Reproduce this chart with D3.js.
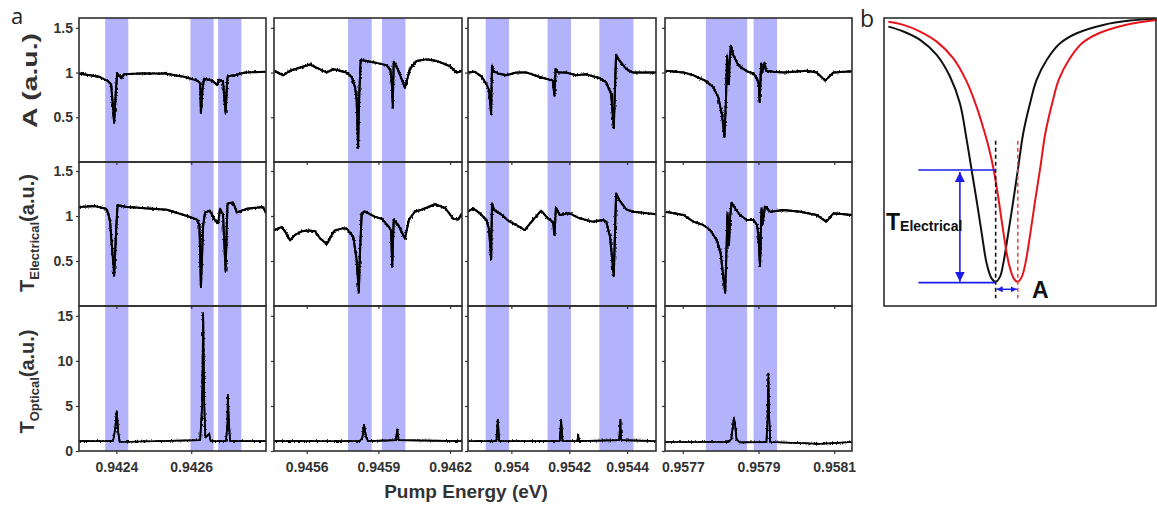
<!DOCTYPE html>
<html lang="en">
<head>
<meta charset="utf-8">
<script src="https://d3js.org/d3.v7.min.js"></script>
<title>Pump energy traces</title>
<style>
  body { margin: 0; background: #fff; }
  text { font-family: "Liberation Sans", Arial, sans-serif; }
  .frame { fill: none; stroke: #2e2e2e; stroke-width: 1.6px; }
  .trace { fill: none; stroke: #000; stroke-linejoin: round; }
  .axis path.domain { display: none; }
  .axis line { stroke: #333; stroke-width: 1.2px; }
  .axis text { font-family: "Liberation Sans", Arial, sans-serif; font-size: 14px; font-weight: bold; fill: #333; }
</style>
</head>
<body>
<svg id="fig" width="1157" height="506"></svg>
<script>
// ---- panel a : x axes (eV) ----
const xDomains = [[0.9423, 0.9428], [0.945463, 0.94625], [0.95385, 0.9545], [0.957653, 0.958147]];
const xTicks = [[0.9424, 0.9426], [0.9456, 0.9459, 0.9462], [0.954, 0.9542, 0.9544], [0.9577, 0.9579, 0.9581]];
const xTickLabels = [["0.9424", "0.9426"], ["0.9456", "0.9459", "0.9462"], ["0.954", "0.9542", "0.9544"], ["0.9577", "0.9579", "0.9581"]];

// ---- panel a : y axes ----
const yDomains = [[0, 1.61], [0, 1.6], [0, 16.1]];
const yTicks = [[0.5, 1, 1.5], [0.5, 1, 1.5], [0, 5, 10, 15]];

// shaded resonance windows [from, to] in eV
const bands1 = [[0.94237, 0.942432], [0.942598, 0.94266], [0.942672, 0.942734]];
const bands2 = [[0.945773, 0.945872], [0.945915, 0.946013]];
const bands3 = [[0.953911, 0.953992], [0.954125, 0.954206], [0.954304, 0.954422]];
const bands4 = [[0.957761, 0.95787], [0.957887, 0.957949]];

// A (a.u.)
const aTrace1 = [[0.9423,0.99],[0.942329,0.97],[0.942356,0.95],[0.942375,0.91],[0.942386,0.87],[0.942394,0.44],[0.942398,0.75],[0.942402,0.99],[0.942414,0.94],[0.94242,0.98],[0.942463,0.99],[0.94253,0.99],[0.942583,0.95],[0.942616,0.91],[0.942624,0.88],[0.942626,0.55],[0.94263,0.8],[0.942634,0.93],[0.942656,0.91],[0.942669,0.86],[0.942674,0.92],[0.942685,0.9],[0.942692,0.55],[0.942696,0.9],[0.942698,0.96],[0.942717,0.97],[0.942744,1.0],[0.9428,1.01]];
const aTrace2 = [[0.945463,1.02],[0.945502,0.97],[0.94553,1.02],[0.945614,1.09],[0.945684,1.0],[0.945711,1.04],[0.945767,1.0],[0.945788,0.95],[0.945802,0.84],[0.945809,0.7],[0.945815,0.16],[0.94582,0.76],[0.945826,1.14],[0.945851,1.13],[0.945907,1.1],[0.945935,1.08],[0.945951,1.02],[0.945957,0.85],[0.94596,0.61],[0.945964,1.12],[0.945977,1.06],[0.945997,0.93],[0.946011,0.83],[0.946032,1.04],[0.94606,1.13],[0.946102,1.15],[0.946144,1.13],[0.9462,1.07],[0.946227,1.0],[0.946241,1.01],[0.94625,1.02]];
const aTrace3 = [[0.95385,1.0],[0.953873,1.01],[0.953897,0.955],[0.953914,0.87],[0.953923,0.8],[0.95393,0.54],[0.953933,1.08],[0.953937,1.02],[0.953954,0.99],[0.953983,0.97],[0.954017,1.0],[0.954052,1.0],[0.954098,0.95],[0.954143,0.91],[0.954149,0.74],[0.954153,1.04],[0.954161,1.0],[0.95419,1.0],[0.954224,0.97],[0.954259,0.98],[0.954304,0.94],[0.954328,0.89],[0.954345,0.76],[0.954354,0.38],[0.954359,0.9],[0.954362,1.2],[0.954373,1.135],[0.954397,1.04],[0.954419,1.0],[0.9545,1.0]];
const aTrace4 = [[0.957655,1.02],[0.957702,1.0],[0.957728,0.97],[0.957759,0.91],[0.957781,0.835],[0.957794,0.72],[0.957803,0.54],[0.95781,0.28],[0.957814,0.69],[0.957817,1.19],[0.95782,1.0],[0.957822,0.87],[0.957823,1.06],[0.957827,1.3],[0.957834,1.19],[0.957847,1.08],[0.957869,1.015],[0.957887,0.99],[0.957896,0.93],[0.957901,0.87],[0.957903,0.67],[0.957907,1.1],[0.95791,1.0],[0.957916,1.11],[0.95792,1.02],[0.957939,1.01],[0.957966,1.0],[0.958028,1.02],[0.958054,1.0],[0.958076,0.91],[0.958098,1.0],[0.958147,1.015]];

// T Electrical (a.u.)
const teTrace1 = [[0.9423,1.1],[0.942343,1.11],[0.942372,1.08],[0.942378,1.03],[0.942383,0.94],[0.942394,0.34],[0.9424,0.9],[0.942403,1.12],[0.942428,1.1],[0.942535,1.07],[0.942589,1.0],[0.942616,0.96],[0.942622,0.9],[0.942626,0.21],[0.942632,0.9],[0.942637,1.04],[0.94265,1.06],[0.942664,0.95],[0.942672,0.92],[0.942677,1.08],[0.942685,1.02],[0.942692,0.39],[0.942697,1.14],[0.942712,1.15],[0.942722,1.04],[0.942749,1.08],[0.942792,1.1],[0.9428,1.03]];
const teTrace2 = [[0.945464,0.84],[0.945481,0.86],[0.945495,0.88],[0.945509,0.83],[0.94553,0.73],[0.945551,0.79],[0.945579,0.83],[0.945607,0.84],[0.945635,0.83],[0.945656,0.75],[0.945684,0.69],[0.945705,0.79],[0.945718,0.84],[0.945746,0.86],[0.945767,0.86],[0.945795,0.77],[0.945809,0.51],[0.945818,0.15],[0.945823,0.6],[0.94583,1.03],[0.945844,1.05],[0.945886,0.99],[0.945914,0.97],[0.945944,0.88],[0.945953,0.84],[0.945958,0.44],[0.945964,0.96],[0.945983,0.9],[0.946011,0.75],[0.946028,0.96],[0.946053,1.05],[0.946081,1.07],[0.946137,1.13],[0.946179,1.09],[0.946213,0.97],[0.946234,0.96],[0.94625,1.03]];
const teTrace3 = [[0.95385,1.05],[0.953868,1.085],[0.953891,1.03],[0.953914,0.956],[0.953923,0.844],[0.95393,0.52],[0.953933,1.14],[0.95394,1.067],[0.95396,1.03],[0.953994,0.937],[0.954017,0.9],[0.954046,0.844],[0.954075,0.956],[0.954103,1.059],[0.954126,0.974],[0.954143,0.937],[0.954149,0.789],[0.954154,1.093],[0.954167,1.011],[0.954201,1.03],[0.954236,0.974],[0.954281,0.937],[0.954316,0.956],[0.954328,0.937],[0.954341,0.77],[0.954354,0.333],[0.954359,0.9],[0.954362,1.252],[0.954373,1.178],[0.954397,1.074],[0.954419,1.048],[0.954454,1.037],[0.9545,1.019]];
const teTrace4 = [[0.957655,1.048],[0.957702,1.011],[0.957728,0.937],[0.957754,0.9],[0.957772,0.844],[0.95779,0.733],[0.9578,0.585],[0.957805,0.4],[0.957812,0.148],[0.957816,0.696],[0.957818,1.03],[0.957821,0.881],[0.957822,0.678],[0.957825,0.993],[0.957829,1.148],[0.957838,1.085],[0.957851,1.011],[0.957869,0.956],[0.957887,0.956],[0.957896,0.9],[0.9579,0.77],[0.957904,0.444],[0.957908,1.085],[0.957911,0.919],[0.957917,1.104],[0.957931,1.048],[0.957966,1.067],[0.95801,1.048],[0.958054,1.011],[0.958079,0.937],[0.958098,1.03],[0.958147,1.011]];

// T Optical (a.u.)
const toTrace1 = [[0.9423,1.1],[0.942391,1.1],[0.942397,2.5],[0.942401,4.4],[0.942405,2.0],[0.942409,1.0],[0.942624,1.2],[0.942629,5],[0.942632,15.3],[0.942635,5],[0.942638,1.5],[0.942648,1.9],[0.942652,1.1],[0.942693,1.1],[0.942697,3],[0.942698,6.2],[0.942701,3],[0.942704,1.1],[0.9428,1.1]];
const toTrace2 = [[0.945463,1.1],[0.945823,1.1],[0.945833,1.5],[0.94584,2.9],[0.945848,1.6],[0.945856,1.1],[0.945973,1.2],[0.945979,2.4],[0.945985,1.2],[0.94625,1.1]];
const toTrace3 = [[0.95385,1.1],[0.953948,1.1],[0.953951,2.5],[0.953953,3.5],[0.953955,2.5],[0.953958,1.1],[0.954167,1.1],[0.95417,2.5],[0.954172,3.5],[0.954174,2.5],[0.954177,1.1],[0.954228,1.1],[0.954231,1.8],[0.954234,1.1],[0.954373,1.2],[0.954377,3.5],[0.95438,1.2],[0.9545,1.1]];
const toTrace4 = [[0.957653,1.0],[0.95782,1.0],[0.957828,1.3],[0.957833,3.0],[0.957835,3.65],[0.957838,3.0],[0.957842,1.3],[0.957851,0.95],[0.957921,1.0],[0.957924,4],[0.957926,8.6],[0.957928,4],[0.957931,1.0],[0.958063,0.8],[0.958147,1.0]];

// ---- panel b : schematic (normalised frame units) ----
const blackCurve = [[0.016,0.97],[0.071,0.953],[0.132,0.924],[0.193,0.872],[0.242,0.796],[0.278,0.704],[0.303,0.576],[0.321,0.472],[0.339,0.368],[0.358,0.252],[0.376,0.148],[0.394,0.096],[0.409,0.084],[0.425,0.102],[0.437,0.148],[0.455,0.252],[0.474,0.368],[0.492,0.484],[0.51,0.6],[0.535,0.704],[0.559,0.785],[0.596,0.854],[0.645,0.912],[0.706,0.947],[0.803,0.976],[0.901,0.991],[0.999,0.997]];
const redCurve = [[0.016,0.987],[0.071,0.976],[0.132,0.953],[0.193,0.918],[0.254,0.86],[0.303,0.779],[0.339,0.692],[0.364,0.617],[0.383,0.553],[0.402,0.472],[0.42,0.368],[0.438,0.252],[0.457,0.148],[0.475,0.096],[0.49,0.084],[0.505,0.102],[0.518,0.148],[0.536,0.252],[0.554,0.368],[0.573,0.484],[0.591,0.6],[0.616,0.704],[0.64,0.785],[0.677,0.854],[0.725,0.912],[0.787,0.947],[0.884,0.976],[0.999,0.993]];
const dipBlack = 0.409, dipRed = 0.49, levelTop = 0.472, levelBottom = 0.081;
const dashTop = 0.574, dashBottom = 0.027, guideStart = 0.126, arrowX = 0.278, arrowY = 0.058;

const traces = [[aTrace1, aTrace2, aTrace3, aTrace4],
                [teTrace1, teTrace2, teTrace3, teTrace4],
                [toTrace1, toTrace2, toTrace3, toTrace4]];
const bands = [bands1, bands2, bands3, bands4];

// layout
const colX = [[79, 266], [274, 462], [468, 656], [665, 852]];
const rowY = [[18, 162], [162, 306], [306, 451]];
const bandColor = "#b3b3fc";
const blue = "#1c1ce8";

const svg = d3.select("#fig");
svg.append("rect").attr("width", 1157).attr("height", 506).attr("fill", "#fff");

let defs = svg.append("defs");
// small roughness on the measured traces
let filt = defs.append("filter").attr("id", "jitter")
  .attr("filterUnits", "userSpaceOnUse").attr("x", 0).attr("y", 0).attr("width", 1157).attr("height", 506);
filt.append("feTurbulence").attr("type", "fractalNoise").attr("baseFrequency", "0.8 0.5")
  .attr("numOctaves", 1).attr("seed", 4).attr("result", "n");
filt.append("feDisplacementMap").attr("in", "SourceGraphic").attr("in2", "n")
  .attr("scale", 4).attr("xChannelSelector", "R").attr("yChannelSelector", "G");

["arrowBig", "arrowSmall"].forEach(function (id, i) {
  let s = i == 0 ? 10 : 6;
  defs.append("marker").attr("id", id)
    .attr("viewBox", "0 0 10 10").attr("refX", 10).attr("refY", 5)
    .attr("markerWidth", s).attr("markerHeight", s)
    .attr("markerUnits", "userSpaceOnUse").attr("orient", "auto-start-reverse")
    .append("path").attr("d", "M0,0 L10,5 L0,10 z").attr("fill", blue);
});

// shaded bands (through all three rows)
bands.forEach(function (bs, c) {
  let x = d3.scaleLinear().domain(xDomains[c]).range(colX[c]);
  svg.append("g").selectAll("rect").data(bs).join("rect")
    .attr("x", d => x(d[0]))
    .attr("width", d => x(d[1]) - x(d[0]))
    .attr("y", rowY[0][0])
    .attr("height", rowY[2][1] - rowY[0][0])
    .attr("fill", bandColor);
});

// traces + axes
for (let r = 0; r < 3; r++) {
  for (let c = 0; c < 4; c++) {
    let x = d3.scaleLinear().domain(xDomains[c]).range(colX[c]);
    let y = d3.scaleLinear().domain(yDomains[r]).range([rowY[r][1], rowY[r][0]]);
    let id = "clip" + r + c;
    defs.append("clipPath").attr("id", id).append("rect")
      .attr("x", colX[c][0]).attr("y", rowY[r][0])
      .attr("width", colX[c][1] - colX[c][0]).attr("height", rowY[r][1] - rowY[r][0]);

    let line = d3.line().x(d => x(d[0])).y(d => y(d[1]));
    let g = svg.append("g").attr("clip-path", "url(#" + id + ")");
    // solid trace, then a roughened copy on top
    g.append("path").datum(traces[r][c])
      .attr("class", "trace")
      .attr("stroke-width", r == 2 ? 1.7 : 2)
      .attr("d", line);
    g.append("path").datum(traces[r][c])
      .attr("class", "trace")
      .attr("filter", "url(#jitter)")
      .attr("stroke-width", r == 2 ? 1.7 : 2)
      .attr("d", line);

    svg.append("g").attr("class", "axis")
      .attr("transform", "translate(" + colX[c][0] + ",0)")
      .call(d3.axisLeft(y).tickValues(yTicks[r]).tickSize(3).tickPadding(3)
        .tickFormat(c == 0 ? d3.format("") : ""));

    svg.append("g").attr("class", "axis")
      .attr("transform", "translate(0," + rowY[r][1] + ")")
      .call(d3.axisBottom(x).tickValues(xTicks[c]).tickSize(3).tickPadding(8)
        .tickFormat((d, i) => r == 2 ? xTickLabels[c][i] : ""));

    svg.append("rect").attr("class", "frame")
      .attr("x", colX[c][0]).attr("y", rowY[r][0])
      .attr("width", colX[c][1] - colX[c][0]).attr("height", rowY[r][1] - rowY[r][0]);
  }
}

// y labels
svg.append("text")
  .attr("transform", "translate(37,80.5) rotate(-90)")
  .attr("text-anchor", "middle")
  .attr("textLength", 95).attr("lengthAdjust", "spacingAndGlyphs")
  .style("font-size", "20px").style("font-weight", "bold").style("fill", "#333")
  .text("A (a.u.)");

[["Electrical", 233], ["Optical", 381.5]].forEach(function (lab) {
  let t = svg.append("text")
    .attr("transform", "translate(34," + lab[1] + ") rotate(-90)")
    .attr("text-anchor", "middle")
    .style("font-weight", "bold").style("fill", "#333");
  t.append("tspan").style("font-size", "20px").text("T");
  t.append("tspan").style("font-size", "13px").attr("dy", 5).text(lab[0]);
  t.append("tspan").style("font-size", "20px").attr("dy", -5).text("(a.u.)");
});

svg.append("text")
  .attr("x", 466).attr("y", 498)
  .attr("text-anchor", "middle")
  .style("font-size", "19px").style("font-weight", "bold").style("fill", "#333")
  .text("Pump Energy (eV)");

svg.append("text").attr("x", 11).attr("y", 24)
  .style("font-family", "'Open Sans', sans-serif").style("font-size", "22px").style("fill", "#222")
  .text("a");
svg.append("text").attr("x", 860).attr("y", 27)
  .style("font-family", "'Open Sans', sans-serif").style("font-size", "23px").style("fill", "#222")
  .text("b");

// ---- panel b ----
let bx = d3.scaleLinear().domain([0, 1]).range([884, 1157]);
let by = d3.scaleLinear().domain([0, 1]).range([306, 18]);
let gb = svg.append("g");
defs.append("clipPath").attr("id", "clipb").append("rect")
  .attr("x", 884).attr("y", 18).attr("width", 273).attr("height", 288);

let curve = d3.line().x(d => bx(d[0])).y(d => by(d[1])).curve(d3.curveCatmullRom);
gb.append("path").datum(blackCurve).attr("d", curve)
  .attr("fill", "none").attr("stroke", "#111").attr("stroke-width", 2).attr("clip-path", "url(#clipb)");
gb.append("path").datum(redCurve).attr("d", curve)
  .attr("fill", "none").attr("stroke", "#e8141c").attr("stroke-width", 2).attr("clip-path", "url(#clipb)");

gb.append("line").attr("x1", bx(dipBlack)).attr("x2", bx(dipBlack))
  .attr("y1", by(dashTop)).attr("y2", by(dashBottom))
  .attr("stroke", "#111").attr("stroke-width", 1.6).attr("stroke-dasharray", "4,3");
gb.append("line").attr("x1", bx(dipRed)).attr("x2", bx(dipRed))
  .attr("y1", by(dashTop)).attr("y2", by(dashBottom))
  .attr("stroke", "#e8474c").attr("stroke-width", 1.6).attr("stroke-dasharray", "4,3");

[levelTop, levelBottom].forEach(function (lv) {
  gb.append("line").attr("x1", bx(guideStart)).attr("x2", bx(dipBlack))
    .attr("y1", by(lv)).attr("y2", by(lv))
    .attr("stroke", blue).attr("stroke-width", 1.6);
});
gb.append("line").attr("x1", bx(arrowX)).attr("x2", bx(arrowX))
  .attr("y1", by(levelTop) + 2).attr("y2", by(levelBottom) - 1)
  .attr("stroke", blue).attr("stroke-width", 1.6)
  .attr("marker-start", "url(#arrowBig)").attr("marker-end", "url(#arrowBig)");
gb.append("line").attr("x1", bx(dipBlack) + 1).attr("x2", bx(dipRed) - 1)
  .attr("y1", by(arrowY)).attr("y2", by(arrowY))
  .attr("stroke", blue).attr("stroke-width", 1.5)
  .attr("marker-start", "url(#arrowSmall)").attr("marker-end", "url(#arrowSmall)");

let tl = gb.append("text").attr("x", 886).attr("y", 229.5)
  .style("font-weight", "bold").style("fill", "#111");
tl.append("tspan").style("font-size", "23px").text("T");
tl.append("tspan").style("font-size", "14px").attr("dy", 1).text("Electrical");

gb.append("text").attr("x", 1032).attr("y", 298)
  .style("font-size", "23px").style("font-weight", "bold").style("fill", "#111")
  .text("A");

gb.append("rect").attr("class", "frame")
  .attr("x", 884).attr("y", 18).attr("width", 272).attr("height", 288);
</script>
</body>
</html>
